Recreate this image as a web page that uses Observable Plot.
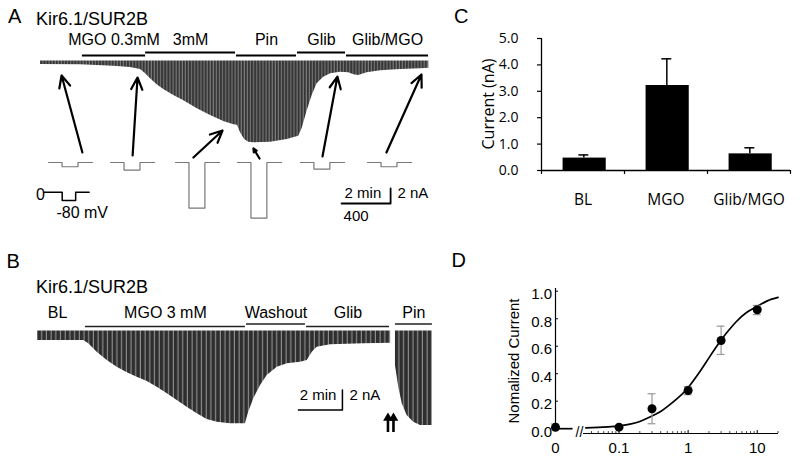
<!DOCTYPE html>
<html><head><meta charset="utf-8">
<script src="https://cdn.jsdelivr.net/npm/d3@7"></script>
<script src="https://cdn.jsdelivr.net/npm/@observablehq/plot@0.6"></script>
<style>
html,body{margin:0;padding:0;background:#fff;}
#fig{position:relative;width:800px;height:461px;overflow:hidden;font-family:"Liberation Sans",Arial,sans-serif;color:#000;}
.panel{position:absolute;}
.panel svg{overflow:visible;}
.lbl{position:absolute;line-height:1;white-space:nowrap;}
.rot{position:absolute;line-height:1;white-space:nowrap;transform:translate(-50%,-50%) rotate(-90deg);}
</style></head><body>
<div id="fig">
<svg width="0" height="0" style="position:absolute">
 <defs>
  <pattern id="hatchA" patternUnits="userSpaceOnUse" width="3.1" height="8">
   <rect width="3.1" height="8" fill="#7a7a7a"/>
   <rect width="2" height="8" fill="#363636"/>
  </pattern>
  <pattern id="hatchB" patternUnits="userSpaceOnUse" width="4.7" height="8">
   <rect width="4.7" height="8" fill="#2e2e2e"/>
   <rect x="3.6" width="0.9" height="8" fill="#a8a8a8"/>
  </pattern>
 </defs>
</svg>
<div class="panel" id="pA" style="left:0;top:0"></div>
<div class="panel" id="pC" style="left:440px;top:0"></div>
<div class="panel" id="pB" style="left:0;top:230px"></div>
<div class="panel" id="pD" style="left:440px;top:230px"></div>
<div class="lbl" style="left:8px;top:5.5px;font-size:20px">A</div>
<div class="lbl" style="left:36px;top:9.5px;font-size:18px">Kir6.1/SUR2B</div>
<div class="lbl" style="left:454px;top:5.5px;font-size:20px">C</div>
<div class="lbl" style="left:6.5px;top:250.5px;font-size:20px">B</div>
<div class="lbl" style="left:36px;top:277.5px;font-size:18px">Kir6.1/SUR2B</div>
<div class="lbl" style="left:451.5px;top:249.5px;font-size:20px">D</div>
<div class="rot" style="left:488px;top:104px;font-size:16px;font-family:'Open Sans',sans-serif">Current (nA)</div>
<div class="rot" style="left:512.5px;top:361px;font-size:15px">Nomalized Current</div>
</div>
<script>
// ---------------- DATA ----------------
// Panel A: whole-cell trace, time (min) vs current at -80 mV (nA)
const traceA_time = [0, 1.63, 2.98, 3.67, 4.08, 4.29, 4.49, 4.76, 5.03, 5.44, 5.85, 6.40, 6.94, 7.48, 7.89, 8.04, 8.16, 8.33, 8.50, 8.71, 9.39, 10.07, 10.54, 10.68, 10.89, 11.09, 11.29, 11.56, 11.84, 12.24, 12.58, 12.79, 12.99, 13.33, 13.88, 14.69, 15.51, 15.85];
const traceA_current = [-0.47, -0.51, -0.69, -0.87, -1.13, -1.71, -2.37, -3.17, -3.80, -4.60, -5.31, -6.37, -7.27, -8.07, -8.51, -8.55, -9.53, -10.47, -10.83, -10.91, -10.83, -10.47, -10.03, -9.00, -6.60, -4.60, -3.04, -2.16, -1.71, -1.49, -1.57, -1.84, -1.93, -1.57, -1.31, -1.13, -1.04, -0.96];
const epochA_label = ["MGO 0.3mM", "3mM", "Pin", "Glib", "Glib/MGO"];
const epochA_start = [1.71, 4.29, 8.0, 10.49, 12.49];
const epochA_end = [4.29, 7.96, 10.45, 12.45, 15.84];
// single sweeps shown below the trace (amplitude of the -80 mV step, nA)
const sweepA_amp = [0.57, 1.01, 6.08, 7.41, 0.88, 0.57];
const sweepA_time = [0.86, 3.96, 7.43, 8.69, 12.12, 15.55];       // where each sweep was taken (arrow tip)
const sweepA_tipCurrent = [-1.93, -2.2, -9.27, -11.67, -2.07, -1.80];
const sweepMs = [0, 110, 110, 240, 240, 360];
const sweepStep = [0, 0, 1, 1, 0, 0];
const protocolMs = [0, 150, 150, 260, 260, 370];
const protocolMv = [0, 0, -80, -80, 0, 0];
const scaleBarMin = 2, scaleBarNa = 2, scaleBarMs = 400;

// Panel B
const traceB_time = [0, 2.10, 2.33, 2.71, 3.17, 3.62, 4.08, 4.53, 4.99, 5.44, 5.90, 6.35, 6.80, 7.26, 7.71, 8.17, 8.77, 9.45, 9.60, 9.83, 10.14, 10.44, 10.90, 11.35, 11.95, 12.26, 12.49, 12.71, 13.32, 14.83, 16.05];
const traceB_current = [-0.95, -0.95, -1.28, -2.12, -2.95, -3.62, -4.18, -4.62, -5.05, -5.62, -6.28, -6.95, -7.62, -8.28, -8.85, -9.12, -9.28, -9.28, -8.12, -6.78, -5.45, -4.45, -3.62, -3.28, -3.12, -2.95, -2.12, -1.62, -1.38, -1.28, -1.22];
const tracePinB_time = [16.27, 16.42, 16.58, 16.80, 17.10, 17.41, 17.94];
const tracePinB_current = [-3.45, -5.62, -7.28, -8.45, -9.12, -9.45, -9.45];
const epochB_label = ["BL", "MGO 3 mM", "Washout", "Glib", "Pin"];
const epochB_start = [0, 2.18, 9.50, 12.23, 16.27];
const epochB_end = [1.82, 9.45, 12.18, 16.0, 17.95];
const markerB_time = [15.93, 16.18];

// Panel C
const groupC = ["BL", "MGO", "Glib/MGO"];
const currentC = [0.47, 3.22, 0.63];
const semC = [0.12, 1.01, 0.23];
const ticksC = [0, 1, 2, 3, 4, 5];

// Panel D
const doseConc = [0, 0.1, 0.3, 1, 3, 10];
const doseMean = [0.01, 0.011, 0.145, 0.278, 0.642, 0.865];
const doseLow = [0.0, 0.011, 0.036, 0.247, 0.54, 0.83];
const doseHigh = [0.035, 0.011, 0.254, 0.307, 0.746, 0.897];
const fitConc = [0.033, 0.05, 0.07, 0.1, 0.15, 0.2, 0.3, 0.4, 0.5, 0.7, 1, 1.5, 2, 3, 4, 5, 7, 10, 14, 20];
const fitValue = [0.006, 0.009, 0.013, 0.02, 0.035, 0.052, 0.092, 0.125, 0.16, 0.22, 0.30, 0.42, 0.515, 0.645, 0.725, 0.78, 0.845, 0.89, 0.93, 0.955];
const ticksDy = [0, 0.2, 0.4, 0.6, 0.8, 1.0];
const ticksDx = [0, 0.1, 1, 10];
const ticksDxLabel = ["0", "0.1", "1", "10"];
const minorDx = [0.04, 0.05, 0.06, 0.07, 0.08, 0.09, 0.2, 0.3, 0.4, 0.5, 0.6, 0.7, 0.8, 0.9, 2, 3, 4, 5, 6, 7, 8, 9, 20];

// ---------------- LAYOUT (data units of each panel) ----------------
const LA = {
  sweepStart: [0.33, 2.86, 5.51, 8.04, 10.61, 13.35], sweepBase: -13.53, msToMin: scaleBarMin / scaleBarMs,
  protocolStart: 0.135, protocolBase: -17.49, mvToNa: 0.01383,
  arrowTail: [[1.71, -12.2], [3.76, -12.6], [6.24, -12.87], [8.94, -13.0], [11.51, -12.73], [14.12, -12.2]],
  barLow: 0.73, barHigh: 1.13, labelY: 2.87, sbT: 12.29, sbI: -19.0
};
const LB = {barLow: 0.45, barHigh: 0.7, labelY: 1.8, sbT: 11.86, sbI: -7.9};
const BREAK_ZERO = 0.01205; // where concentration 0 sits left of the axis break

const sans = '"Liberation Sans", Arial, sans-serif';
const baseStyle = {fontFamily: sans, fontSize: "14px", color: "black", background: "transparent", overflow: "visible"};

// ---------------- PANEL A ----------------
const trA = traceA_time.map((t, i) => ({t, I: traceA_current[i]}));
const epA = epochA_label.map((label, i) => ({label, i, start: epochA_start[i], end: epochA_end[i]}));
const swA = sweepA_amp.flatMap((amp, k) => sweepMs.map((ms, j) => ({k, t: LA.sweepStart[k] + ms * LA.msToMin, I: LA.sweepBase - sweepStep[j] * amp})));
const prA = protocolMs.map((ms, j) => ({t: LA.protocolStart + ms * LA.msToMin, I: LA.protocolBase + protocolMv[j] * LA.mvToNa}));
const arA = sweepA_time.map((t, k) => ({x1: LA.arrowTail[k][0], y1: LA.arrowTail[k][1], x2: t, y2: sweepA_tipCurrent[k]}));
const sbA = [{t: LA.sbT, I: LA.sbI}, {t: LA.sbT + scaleBarMin, I: LA.sbI}, {t: LA.sbT + scaleBarMin, I: LA.sbI + scaleBarNa}];

const plotA = Plot.plot({
  width: 440, height: 230, marginTop: 0, marginRight: 0, marginBottom: 0, marginLeft: 0,
  x: {domain: [-1.633, 16.327], axis: null},
  y: {domain: [-22.6, 8.067], axis: null},
  style: baseStyle,
  marks: [
    Plot.areaY(trA, {x: "t", y1: 0, y2: "I", fill: "url(#hatchA)"}),
    Plot.ruleY(epA, {x1: "start", x2: "end", y: d => d.i % 2 ? LA.barHigh : LA.barLow, stroke: "black", strokeWidth: 2}),
    Plot.text(epA, {x: d => (d.start + d.end) / 2, y: LA.labelY, text: "label", fontSize: 16}),
    Plot.line(swA, {x: "t", y: "I", z: "k", stroke: "#777", strokeWidth: 1.2}),
    Plot.line(prA, {x: "t", y: "I", stroke: "black", strokeWidth: 1.5}),
    Plot.text(["0"], {x: 0, y: -17.8, fontSize: 16}),
    Plot.text(["-80 mV"], {x: 0.65, y: -20.2, textAnchor: "start", fontSize: 16}),
    Plot.arrow(arA, {x1: "x1", y1: "y1", x2: "x2", y2: "y2", stroke: "black", strokeWidth: 2.2, headLength: 9, headAngle: 50}),
    Plot.line(sbA, {x: "t", y: "I", stroke: "black", strokeWidth: 1.8}),
    Plot.text(["2 min"], {x: 13.16, y: -17.67, fontSize: 15}),
    Plot.text(["2 nA"], {x: 14.57, y: -17.67, textAnchor: "start", fontSize: 15}),
    Plot.text([String(scaleBarMs)], {x: 12.37, y: -20.73, textAnchor: "start", fontSize: 15})
  ]
});
document.getElementById("pA").appendChild(plotA);

// ---------------- PANEL B ----------------
const trB = traceB_time.map((t, i) => ({t, I: traceB_current[i], seg: "main"}))
  .concat(tracePinB_time.map((t, i) => ({t, I: tracePinB_current[i], seg: "pin"})));
const epB = epochB_label.map((label, i) => ({label, i, start: epochB_start[i], end: epochB_end[i]}));
const sbB = [{t: LB.sbT, I: LB.sbI}, {t: LB.sbT + scaleBarMin, I: LB.sbI}, {t: LB.sbT + scaleBarMin, I: LB.sbI + scaleBarNa}];

const plotB = Plot.plot({
  width: 440, height: 231, marginTop: 0, marginRight: 0, marginBottom: 0, marginLeft: 0,
  x: {domain: [-1.682, 18.318], axis: null},
  y: {domain: [-13.05, 10.05], axis: null},
  style: baseStyle,
  marks: [
    Plot.areaY(trB, {x: "t", y1: 0, y2: "I", z: "seg", fill: "url(#hatchB)"}),
    Plot.ruleY(epB.filter(d => d.i > 0), {x1: "start", x2: "end", y: d => d.i % 2 ? LB.barLow : LB.barHigh, stroke: "#222", strokeWidth: 1.6}),
    Plot.text(epB, {x: d => (d.start + d.end) / 2, y: LB.labelY, text: "label", fontSize: 16}),
    Plot.line(sbB, {x: "t", y: "I", stroke: "black", strokeWidth: 1.5}),
    Plot.text(["2 min"], {x: 12.75, y: -6.45, fontSize: 15}),
    Plot.text(["2 nA"], {x: 14.18, y: -6.45, textAnchor: "start", fontSize: 15}),
    Plot.ruleX(markerB_time, {x: d => d, y1: -10.15, y2: -8.9, stroke: "black", strokeWidth: 2.6}),
    Plot.dot(markerB_time, {x: d => d, y: -8.7, symbol: "triangle", r: 3.6, fill: "black", stroke: "none"})
  ]
});
document.getElementById("pB").appendChild(plotB);

// ---------------- PANEL C ----------------
const cData = groupC.map((g, i) => ({g, i, v: currentC[i], e: semC[i]}));
const plotC = Plot.plot({
  width: 360, height: 230, marginTop: 38, marginRight: 10, marginBottom: 60, marginLeft: 101,
  x: {domain: [0, 3], axis: null},
  y: {domain: [0, 5], axis: null},
  style: {...baseStyle, fontFamily: '"Open Sans", sans-serif'},
  marks: [
    Plot.rect(cData, {x1: d => d.i + 0.26, x2: d => d.i + 0.78, y1: 0, y2: "v", fill: "black"}),
    Plot.ruleX(cData, {x: d => d.i + 0.51, y1: "v", y2: d => d.v + d.e, stroke: "black", strokeWidth: 1.5}),
    Plot.ruleY(cData, {y: d => d.v + d.e, x1: d => d.i + 0.45, x2: d => d.i + 0.57, stroke: "black", strokeWidth: 1.5}),
    Plot.ruleX([0], {y1: 0, y2: 5, stroke: "black", strokeWidth: 1.3}),
    Plot.ruleY([0], {x1: 0, x2: 3, stroke: "black", strokeWidth: 1.3}),
    Plot.ruleY(ticksC, {y: d => d, x1: -0.048, x2: 0, stroke: "black", strokeWidth: 1.2}),
    Plot.ruleX([0, 1, 2, 3], {x: d => d, y1: 0, y2: -0.15, stroke: "black", strokeWidth: 1.2}),
    Plot.text(ticksC, {x: 0, y: d => d, text: d => d.toFixed(1), textAnchor: "end", dx: -23, fontSize: 14}),
    Plot.text(cData, {x: d => d.i + 0.5, y: 0, dy: 30, text: "g", fontSize: 15.5})
  ]
});
document.getElementById("pC").appendChild(plotC);

// ---------------- PANEL D ----------------
const posX = c => c === 0 ? BREAK_ZERO : c;
const dData = doseConc.map((c, i) => ({x: posX(c), m: doseMean[i], lo: doseLow[i], hi: doseHigh[i]}));
const fit = fitConc.map((c, i) => ({x: c, y: fitValue[i]}));
const capK = 1.14;
const plotD = Plot.plot({
  width: 360, height: 231, marginTop: 58, marginRight: 22, marginBottom: 28, marginLeft: 115,
  x: {type: "log", domain: [BREAK_ZERO, 20.3], axis: null},
  y: {domain: [-0.035, 1.02], axis: null},
  style: baseStyle,
  marks: [
    Plot.ruleX([BREAK_ZERO], {y1: -0.015, y2: 1.02, stroke: "black", strokeWidth: 1.2}),
    Plot.ruleY([-0.035], {x1: 0.0306, x2: 20.3, stroke: "black", strokeWidth: 1.2}),
    Plot.ruleY([0], {x1: BREAK_ZERO, x2: 0.0216, stroke: "black", strokeWidth: 1.7}),
    Plot.text(["//"], {x: 0.0268, y: -0.028, fontSize: 14}),
    Plot.ruleY(ticksDy, {y: d => d, x1: BREAK_ZERO, x2: BREAK_ZERO * 1.105, stroke: "black"}),
    Plot.ruleX(minorDx, {x: d => d, y1: -0.035, y2: -0.021, stroke: "#444"}),
    Plot.ruleX(ticksDx.slice(1), {x: d => d, y1: -0.035, y2: -0.013, stroke: "black"}),
    Plot.line(fit, {x: "x", y: "y", curve: "natural", stroke: "black", strokeWidth: 1.7}),
    Plot.ruleX(dData, {x: "x", y1: "lo", y2: "hi", stroke: "#999", strokeWidth: 1.2}),
    Plot.ruleY(dData, {y: "lo", x1: d => d.x / capK, x2: d => d.x * capK, stroke: "#999", strokeWidth: 1.2}),
    Plot.ruleY(dData, {y: "hi", x1: d => d.x / capK, x2: d => d.x * capK, stroke: "#999", strokeWidth: 1.2}),
    Plot.dot(dData, {x: "x", y: "m", r: 4.5, fill: "black", stroke: "none"}),
    Plot.text(ticksDy, {x: BREAK_ZERO, y: d => d, text: d => d.toFixed(1), textAnchor: "end", dx: -3.5, dy: 3, fontSize: 15}),
    Plot.text(ticksDx, {x: d => posX(d), y: -0.035, dy: 15, text: (d, i) => ticksDxLabel[i], fontSize: 15})
  ]
});
document.getElementById("pD").appendChild(plotD);
</script>
</body></html>
